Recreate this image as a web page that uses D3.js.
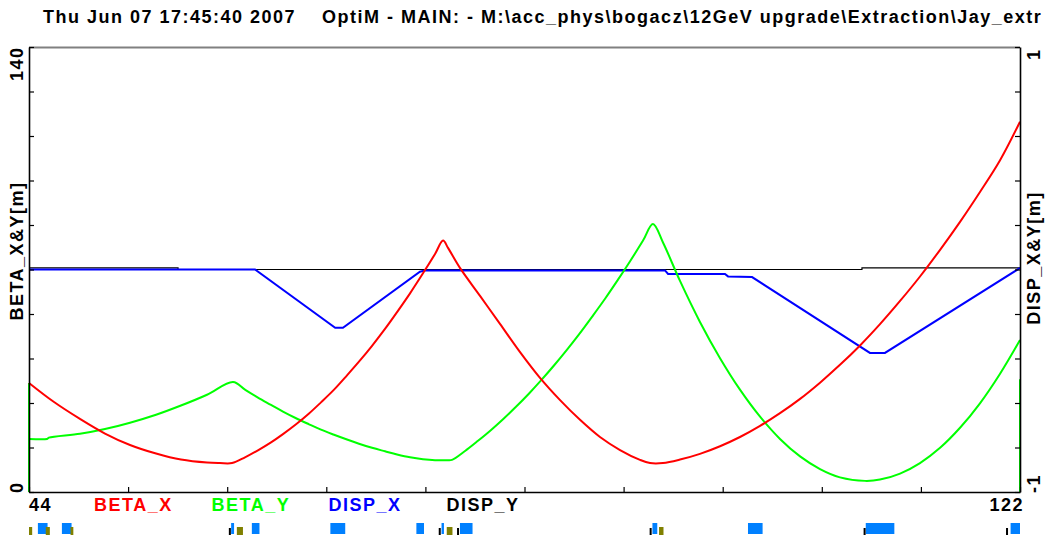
<!DOCTYPE html>
<html>
<head>
<meta charset="utf-8">
<script src="https://cdn.jsdelivr.net/npm/d3@7"></script>
<style>
  body { margin: 0; background: #fff; overflow: hidden; }
  text { font-family: "Liberation Sans", Arial, sans-serif; font-weight: bold; white-space: pre; }
</style>
</head>
<body>
<script>
// ---- data (s in m) ----
var titleText = "Thu Jun 07 17:45:40 2007    OptiM - MAIN: - M:\\acc_phys\\bogacz\\12GeV upgrade\\Extraction\\Jay_extr";

var sRange = [44, 122];
var betaRange = [0, 140];
var dispRange = [-1, 1];

var leftTicks = [0, 14, 28, 42, 56, 70, 84, 98, 112, 126, 140];
var rightTicks = [-1, -0.8, -0.6, -0.4, -0.2, 0, 0.2, 0.4, 0.6, 0.8, 1];
var bottomTicks = [44, 51.8, 59.6, 67.4, 75.2, 83, 90.8, 98.6, 106.4, 114.2, 122];

var legendNames = ["BETA_X", "BETA_Y", "DISP_X", "DISP_Y"];

var betaX = [[44.00,34.3],[45.97,28.3],[48.01,23.0],[49.98,18.4],[51.95,14.8],[54.00,12.1],[55.96,10.2],
  [58.01,9.25],[59.03,9.1],[59.98,9.1],[61.00,10.9],[62.02,13.1],[63.05,15.6],[63.99,18.2],[65.02,21.3],
  [66.04,24.7],[66.98,28.2],[68.01,32.2],[69.03,36.7],[69.97,41.0],[71.00,46.0],[72.02,51.3],[72.97,56.6],
  [73.99,62.5],[75.01,68.8],[75.96,74.9],[76.59,79.1],[76.98,76.8],[77.92,70.5],[79.50,61.7],[81.07,52.9],
  [82.65,44.0],[84.22,35.9],[85.80,28.9],[87.37,22.7],[88.94,17.3],[90.52,13.2],[92.09,10.1],[92.88,9.1],
  [93.90,9.1],[95.24,10.2],[96.81,12.0],[98.39,14.4],[99.96,17.3],[101.54,20.8],[103.11,24.8],[104.69,29.3],
  [106.26,34.4],[107.83,40.0],[109.41,46.1],[110.98,52.8],[112.56,60.1],[114.13,67.8],[115.71,76.2],
  [117.28,85.0],[118.85,94.4],[120.43,104.4],[122.00,116.5]];

var betaY = [[44.00,16.7],[45.42,16.7],[45.57,17.1],[48.01,18.3],[49.98,19.8],[51.95,21.8],[54.00,24.3],
  [55.96,27.2],[58.01,30.6],[60.06,34.6],[61.00,32.2],[62.02,29.7],[63.05,27.4],[63.99,25.3],[65.02,23.2],
  [66.04,21.3],[66.98,19.6],[68.01,18.0],[69.03,16.5],[69.97,15.2],[71.00,13.9],[72.02,12.8],[72.97,11.8],
  [73.99,10.9],[75.01,10.3],[75.96,10.0],[76.90,10.0],[77.29,10.1],[78.32,12.9],[79.34,16.1],[80.28,19.2],
  [81.31,22.9],[82.33,26.8],[83.36,31.0],[84.30,35.1],[85.32,39.8],[86.35,44.8],[87.29,49.6],[88.31,55.1],
  [89.34,60.8],[90.36,66.8],[91.31,72.6],[92.33,79.1],[93.11,84.3],[93.90,78.5],[95.24,66.4],[96.81,53.5],
  [98.39,42.1],[99.96,32.2],[101.54,23.7],[103.11,16.7],[104.69,11.2],[106.26,7.2],[107.83,4.6],[109.80,3.5],
  [110.98,3.9],[112.56,5.8],[114.13,9.1],[115.71,13.9],[117.28,20.2],[118.85,27.9],[120.43,37.2],[122.00,47.8]];

// green edge strokes running down both frame sides
var betaYEdges = [[44, 0, 34.3], [122, 0, 35.5]];

var dispX = [[44.00,0],[61.79,0],[68.10,-0.262],[68.71,-0.262],[74.77,-0.01],[75.17,-0.004],[94.06,-0.004],
  [94.30,-0.02],[98.78,-0.02],[99.02,-0.031],[100.91,-0.034],[110.19,-0.375],[111.37,-0.375],[122.00,0.007]];

var dispY = [[44,0.007],[55.73,0.007],[55.73,0],[109.56,0],[109.56,0.007],[122,0.007]];

// lattice elements [s start, s end]
var dipoles = [[44.70,45.46],[46.59,47.35],[59.91,60.14],[61.54,62.14],[67.72,68.89],[74.49,75.09],
  [76.47,76.66],[77.92,78.91],[93.07,93.45],[100.59,101.74],[109.86,112.11],[121.26,122.0]];
var quads = [[44.0,44.25],[45.32,45.64],[47.27,47.49],[60.36,60.84],[76.88,77.33],[93.59,93.94]];
var markers = [[59.73,59.87],[76.25,76.39],[77.69,77.82],[92.85,92.98],[109.69,109.84],[120.90,121.04]];

// ---- layout ----
var W = 1046, H = 539;
var L = 29, R = 1020, T = 47, B = 492;

var svg = d3.select("body").append("svg")
  .attr("width", W).attr("height", H);

var x = d3.scaleLinear().domain(sRange).range([L, R]);
var yL = d3.scaleLinear().domain(betaRange).range([B, T]);
var yR = d3.scaleLinear().domain(dispRange).range([B, T]);

// title
svg.append("text")
  .attr("x", 43).attr("y", 23)
  .style("font-size", "18px").style("letter-spacing", "1.5px")
  .text(titleText);

// top frame line
svg.append("line")
  .attr("x1", L).attr("x2", R).attr("y1", T + 0.5).attr("y2", T + 0.5)
  .attr("stroke", "#808080").attr("stroke-width", 2);

// curves
var lineBeta = d3.line().x(d => x(d[0])).y(d => yL(d[1])).curve(d3.curveCatmullRom.alpha(0.5));
var lineDisp = d3.line().x(d => x(d[0])).y(d => yR(d[1]));

svg.append("path").datum(dispY)
  .attr("d", lineDisp).attr("fill", "none").attr("stroke", "#000").attr("stroke-width", 1.2);
svg.append("path").datum(dispX)
  .attr("d", lineDisp).attr("fill", "none").attr("stroke", "#0000ff").attr("stroke-width", 2);

svg.selectAll(".edge").data(betaYEdges).enter().append("line")
  .attr("x1", d => x(d[0])).attr("x2", d => x(d[0]))
  .attr("y1", d => yL(d[1])).attr("y2", d => yL(d[2]))
  .attr("stroke", "#00ff00").attr("stroke-width", 2);

svg.append("path").datum(betaY)
  .attr("d", lineBeta).attr("fill", "none").attr("stroke", "#00ff00").attr("stroke-width", 2)
  .attr("stroke-linejoin", "round");
svg.append("path").datum(betaX)
  .attr("d", lineBeta).attr("fill", "none").attr("stroke", "#ff0000").attr("stroke-width", 2)
  .attr("stroke-linejoin", "round");

// axes (ticks pointing inward)
function styleAxis(g) {
  g.select(".domain").attr("stroke-width", 1.6);
  g.selectAll(".tick line").attr("stroke-width", 1.2);
}
svg.append("g").attr("transform", "translate(" + L + ",0)")
  .call(d3.axisLeft(yL).tickValues(leftTicks).tickSize(-5).tickSizeOuter(0).tickFormat(""))
  .call(styleAxis);
svg.append("g").attr("transform", "translate(" + R + ",0)")
  .call(d3.axisRight(yR).tickValues(rightTicks).tickSize(-5).tickSizeOuter(0).tickFormat(""))
  .call(styleAxis);
svg.append("g").attr("transform", "translate(0," + B + ")")
  .call(d3.axisBottom(x).tickValues(bottomTicks).tickSize(-5).tickSizeOuter(0).tickFormat(""))
  .call(styleAxis);

// axis labels (rotated)
function vtext(px, py, anchor, str) {
  svg.append("text")
    .attr("transform", "translate(" + px + "," + py + ") rotate(-90)")
    .attr("text-anchor", anchor)
    .style("font-size", "18px").style("letter-spacing", "1.5px")
    .text(str);
}
vtext(23, yL(betaRange[1]) + 34, "start", String(betaRange[1]));
vtext(23, yL(betaRange[0]) + 1, "start", String(betaRange[0]));
vtext(23, 251, "middle", "BETA_X&Y[m]");
vtext(1040, yR(dispRange[1]) + 13, "start", String(dispRange[1]));
vtext(1040, yR(dispRange[0]) + 1, "start", String(dispRange[0]));
vtext(1040, 258, "middle", "DISP_X&Y[m]");

// bottom row: range ends + legend
var legendColors = ["#ff0000", "#00ff00", "#0000ff", "#000000"];
var legendX = [94, 211.5, 328.5, 446.5];
svg.append("text").attr("x", x(sRange[0])).attr("y", 511)
  .style("font-size", "18px").style("letter-spacing", "1.5px").text(sRange[0]);
svg.append("text").attr("x", x(sRange[1]) + 4).attr("y", 511).attr("text-anchor", "end")
  .style("font-size", "18px").style("letter-spacing", "1.5px").text(sRange[1]);
svg.selectAll(".leg").data(legendNames).enter().append("text")
  .attr("x", (d, i) => legendX[i]).attr("y", 511)
  .attr("fill", (d, i) => legendColors[i])
  .style("font-size", "18px").style("letter-spacing", "1.5px")
  .text(d => d);

// lattice strip
var strip = svg.append("g");
strip.selectAll(".dip").data(dipoles).enter().append("rect")
  .attr("x", d => x(d[0])).attr("width", d => Math.max(2, x(d[1]) - x(d[0])))
  .attr("y", 523).attr("height", 11).attr("fill", "#0080ff");
strip.selectAll(".quad").data(quads).enter().append("rect")
  .attr("x", d => x(d[0])).attr("width", d => Math.max(2, x(d[1]) - x(d[0])))
  .attr("y", 527).attr("height", 8).attr("fill", "#808000");
strip.selectAll(".mark").data(markers).enter().append("rect")
  .attr("x", d => x(d[0])).attr("width", d => Math.max(2, x(d[1]) - x(d[0])))
  .attr("y", 528).attr("height", 7).attr("fill", "#000");
</script>
</body>
</html>
